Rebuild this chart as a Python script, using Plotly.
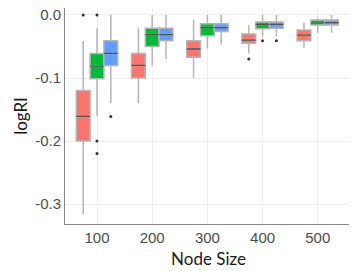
import plotly.graph_objects as go

categories = ["100", "200", "300", "400", "500"]
series = ["A", "B", "C"]
colors = ["#F8766D", "#00BA38", "#619CFF"]

# per-series stats for each category: lower whisker, q1, median, q3, upper whisker
lower = [[-0.316, -0.140, -0.100, -0.061, -0.052],
         [-0.160, -0.080, -0.053, -0.034, -0.028],
         [-0.140, -0.070, -0.047, -0.034, -0.028]]
q1 = [[-0.200, -0.100, -0.067, -0.045, -0.041],
      [-0.101, -0.050, -0.033, -0.022, -0.016],
      [-0.080, -0.041, -0.026, -0.021, -0.016]]
median = [[-0.161, -0.080, -0.054, -0.040, -0.032],
          [-0.081, -0.031, -0.020, -0.015, -0.013],
          [-0.061, -0.031, -0.020, -0.015, -0.012]]
q3 = [[-0.120, -0.061, -0.041, -0.030, -0.024],
      [-0.061, -0.021, -0.014, -0.011, -0.008],
      [-0.041, -0.021, -0.014, -0.011, -0.008]]
upper = [[-0.041, -0.021, -0.008, -0.016, -0.012],
         [-0.021, 0.000, 0.000, 0.000, -0.005],
         [0.000, 0.000, 0.000, 0.000, 0.000]]
# outliers: (category index, series index, value)
out_cat = [0, 0, 0, 0, 0, 3, 3, 3]
out_ser = [0, 1, 1, 1, 2, 0, 1, 2]
out_val = [0.000, 0.000, -0.200, -0.220, -0.161, -0.070, -0.041, -0.041]

dodge = [-0.25, 0.0, 0.25]
box_w = 0.25

fig = go.Figure()
for s in range(3):
    xs = [i + 1 + dodge[s] for i in range(len(categories))]
    fig.add_trace(go.Box(
        x=xs, q1=q1[s], median=median[s], q3=q3[s],
        lowerfence=lower[s], upperfence=upper[s],
        width=box_w, whiskerwidth=0,
        fillcolor=colors[s], line=dict(color="#b5b5b5", width=1.5),
        boxpoints=False, showlegend=False, hoverinfo="skip"))
    # darker median line
    fig.add_trace(go.Box(
        x=xs, q1=median[s], median=median[s], q3=median[s],
        lowerfence=median[s], upperfence=median[s],
        width=box_w, whiskerwidth=0,
        fillcolor="rgba(0,0,0,0)", line=dict(color="rgba(40,40,40,0.7)", width=1.3),
        boxpoints=False, showlegend=False, hoverinfo="skip"))

fig.add_trace(go.Scatter(
    x=[c + 1 + dodge[s] for c, s in zip(out_cat, out_ser)], y=out_val,
    mode="markers", marker=dict(color="#333333", size=3),
    showlegend=False, hoverinfo="skip"))

fig.update_layout(
    width=349, height=263,
    margin=dict(l=57, r=5, t=0, b=47),
    plot_bgcolor="white", paper_bgcolor="white",
    font=dict(family="Liberation Sans, Arial, sans-serif", color="#4d4d4d", size=12),
)
fig.update_xaxes(
    range=[0.42, 5.62], tickmode="array", tickvals=[1, 2, 3, 4, 5], ticktext=categories,
    showgrid=True, gridcolor="#efefef", gridwidth=1, automargin=False,
    showline=True, linecolor="#888888", linewidth=1, ticks="", zeroline=False,
    tickfont=dict(size=15, color="#4d4d4d"), ticklabeloverflow="allow",
    title=dict(text="Node Size", font=dict(size=17, color="#1a1a1a", family="Lato, sans-serif"), standoff=8),
)
fig.update_yaxes(
    range=[-0.3317, 0.0111], tickmode="array", tickvals=[0.0, -0.1, -0.2, -0.3],
    ticktext=["0.0", "-0.1", "-0.2", "-0.3"],
    showgrid=True, gridcolor="#efefef", gridwidth=1, automargin=False,
    showline=True, linecolor="#888888", linewidth=1, ticks="", zeroline=False,
    tickfont=dict(size=15, color="#4d4d4d"), ticklabeloverflow="allow",
    title=dict(text="logRI", font=dict(size=17, color="#1a1a1a", family="Lato, sans-serif"), standoff=3),
)

fig.write_html("out.html")
